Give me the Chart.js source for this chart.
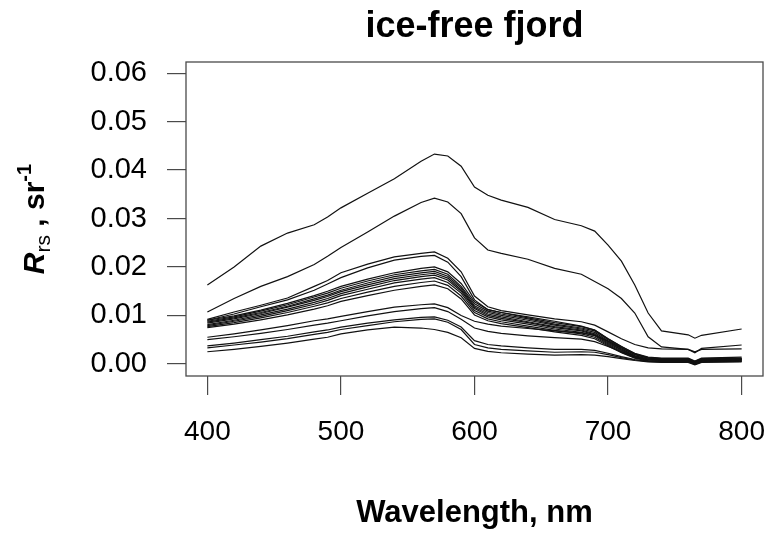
<!DOCTYPE html>
<html>
<head>
<meta charset="utf-8">
<title>ice-free fjord</title>
<script src="https://cdn.jsdelivr.net/npm/chart.js@4.4.1/dist/chart.umd.min.js"></script>
<style>
  html, body { margin: 0; padding: 0; background: #fff; }
  #wrap { width: 766px; height: 536px; }
</style>
</head>
<body>
<div id="wrap"><canvas id="rrsChart"></canvas></div>
<script>
const wavelengths = [400, 420, 440, 460, 480, 490, 500, 520, 540, 560, 570, 580, 590, 600, 610, 620, 640, 660, 680, 690, 700, 710, 720, 730, 740, 760, 765, 770, 800];
const xTicks = [400, 500, 600, 700, 800];
const yTicks = [0, 0.01, 0.02, 0.03, 0.04, 0.05, 0.06];

// Rrs spectra, sr^-1
const rrsA  = [0.0163, 0.0200, 0.0243, 0.0270, 0.0287, 0.0303, 0.0322, 0.0352, 0.0382, 0.0418, 0.0433, 0.0429, 0.0408, 0.0365, 0.0348, 0.0338, 0.0323, 0.0298, 0.0285, 0.0274, 0.0245, 0.0212, 0.0163, 0.0105, 0.0068, 0.0060, 0.0053, 0.0059, 0.0072];
const rrsB  = [0.0107, 0.0135, 0.0160, 0.0180, 0.0205, 0.0222, 0.0240, 0.0272, 0.0305, 0.0333, 0.0342, 0.0334, 0.0310, 0.0260, 0.0235, 0.0228, 0.0216, 0.0197, 0.0185, 0.0170, 0.0155, 0.0135, 0.0105, 0.0056, 0.0035, 0.0030, 0.0023, 0.0032, 0.0039];
const rrsC1 = [0.0092, 0.0107, 0.0121, 0.0136, 0.0160, 0.0172, 0.0188, 0.0206, 0.0221, 0.0228, 0.0231, 0.0218, 0.0190, 0.0140, 0.0118, 0.0110, 0.0101, 0.0093, 0.0087, 0.0080, 0.0066, 0.0052, 0.0040, 0.0033, 0.0031, 0.0030, 0.0025, 0.0030, 0.0031];
const rrsC2 = [0.0090, 0.0103, 0.0118, 0.0132, 0.0152, 0.0165, 0.0178, 0.0198, 0.0214, 0.0222, 0.0224, 0.0210, 0.0180, 0.0132, 0.0112, 0.0106, 0.0097, 0.0088, 0.0078, 0.0070, 0.0052, 0.0036, 0.0022, 0.0014, 0.0012, 0.0012, 0.0006, 0.0012, 0.0014];
const rrsM1 = [0.0090, 0.0099, 0.0111, 0.0125, 0.0141, 0.0150, 0.0160, 0.0175, 0.0188, 0.0197, 0.0200, 0.0190, 0.0166, 0.0128, 0.0112, 0.0106, 0.0095, 0.0085, 0.0077, 0.0070, 0.0052, 0.0036, 0.0021, 0.0013, 0.0011, 0.0011, 0.0005, 0.0011, 0.0012];
const rrsM2 = [0.0088, 0.0097, 0.0109, 0.0122, 0.0138, 0.0146, 0.0156, 0.0171, 0.0184, 0.0192, 0.0195, 0.0185, 0.0160, 0.0124, 0.0109, 0.0103, 0.0093, 0.0082, 0.0074, 0.0068, 0.0050, 0.0034, 0.0019, 0.0012, 0.0010, 0.0010, 0.0004, 0.0010, 0.0011];
const rrsM3 = [0.0086, 0.0095, 0.0106, 0.0119, 0.0134, 0.0142, 0.0152, 0.0167, 0.0180, 0.0188, 0.0191, 0.0181, 0.0157, 0.0120, 0.0106, 0.0100, 0.0090, 0.0080, 0.0072, 0.0065, 0.0047, 0.0031, 0.0017, 0.0010, 0.0009, 0.0009, 0.0003, 0.0009, 0.0010];
const rrsM4 = [0.0084, 0.0093, 0.0104, 0.0117, 0.0131, 0.0139, 0.0149, 0.0163, 0.0176, 0.0184, 0.0187, 0.0177, 0.0153, 0.0117, 0.0103, 0.0097, 0.0087, 0.0077, 0.0070, 0.0062, 0.0045, 0.0029, 0.0016, 0.0009, 0.0008, 0.0008, 0.0002, 0.0008, 0.0009];
const rrsM5 = [0.0081, 0.0090, 0.0101, 0.0113, 0.0127, 0.0135, 0.0145, 0.0159, 0.0172, 0.0180, 0.0183, 0.0173, 0.0150, 0.0114, 0.0100, 0.0094, 0.0085, 0.0075, 0.0068, 0.0060, 0.0043, 0.0028, 0.0015, 0.0009, 0.0008, 0.0007, 0.0002, 0.0007, 0.0008];
const rrsM6 = [0.0079, 0.0088, 0.0098, 0.0110, 0.0123, 0.0131, 0.0141, 0.0154, 0.0167, 0.0175, 0.0178, 0.0168, 0.0146, 0.0110, 0.0097, 0.0091, 0.0082, 0.0072, 0.0065, 0.0058, 0.0041, 0.0026, 0.0014, 0.0008, 0.0007, 0.0007, 0.0001, 0.0007, 0.0008];
const rrsM7 = [0.0077, 0.0085, 0.0095, 0.0106, 0.0119, 0.0126, 0.0135, 0.0148, 0.0160, 0.0168, 0.0171, 0.0162, 0.0140, 0.0106, 0.0093, 0.0087, 0.0078, 0.0069, 0.0062, 0.0055, 0.0039, 0.0024, 0.0013, 0.0007, 0.0006, 0.0006, 0.0000, 0.0006, 0.0007];
const rrsM8 = [0.0075, 0.0082, 0.0091, 0.0101, 0.0113, 0.0120, 0.0129, 0.0141, 0.0152, 0.0160, 0.0163, 0.0155, 0.0134, 0.0101, 0.0089, 0.0083, 0.0075, 0.0066, 0.0059, 0.0052, 0.0037, 0.0023, 0.0012, 0.0006, 0.0005, 0.0005, -0.0001, 0.0005, 0.0006];
const rrsL1 = [0.0055, 0.0062, 0.0070, 0.0079, 0.0089, 0.0093, 0.0098, 0.0108, 0.0117, 0.0122, 0.0124, 0.0116, 0.0100, 0.0088, 0.0082, 0.0078, 0.0073, 0.0068, 0.0064, 0.0059, 0.0047, 0.0033, 0.0020, 0.0012, 0.0010, 0.0010, 0.0005, 0.0010, 0.0011];
const rrsL2 = [0.0050, 0.0056, 0.0063, 0.0071, 0.0080, 0.0084, 0.0089, 0.0099, 0.0108, 0.0114, 0.0116, 0.0108, 0.0092, 0.0074, 0.0067, 0.0063, 0.0058, 0.0054, 0.0051, 0.0046, 0.0036, 0.0025, 0.0015, 0.0009, 0.0008, 0.0008, 0.0003, 0.0008, 0.0009];
const rrsL3 = [0.0037, 0.0043, 0.0050, 0.0057, 0.0066, 0.0070, 0.0076, 0.0084, 0.0091, 0.0096, 0.0097, 0.0090, 0.0076, 0.0048, 0.0040, 0.0037, 0.0033, 0.0030, 0.0030, 0.0028, 0.0022, 0.0015, 0.0009, 0.0006, 0.0005, 0.0005, 0.0000, 0.0005, 0.0006];
const rrsL4 = [0.0033, 0.0039, 0.0045, 0.0052, 0.0061, 0.0065, 0.0071, 0.0079, 0.0087, 0.0092, 0.0093, 0.0086, 0.0071, 0.0040, 0.0033, 0.0030, 0.0027, 0.0024, 0.0025, 0.0024, 0.0019, 0.0013, 0.0008, 0.0005, 0.0004, 0.0004, -0.0001, 0.0004, 0.0005];
const rrsL5 = [0.0025, 0.0030, 0.0036, 0.0043, 0.0051, 0.0055, 0.0062, 0.0070, 0.0076, 0.0074, 0.0071, 0.0065, 0.0054, 0.0032, 0.0026, 0.0023, 0.0020, 0.0018, 0.0019, 0.0018, 0.0015, 0.0011, 0.0007, 0.0004, 0.0003, 0.0003, -0.0002, 0.0003, 0.0004];

const spectra = [rrsA, rrsB, rrsC1, rrsC2, rrsM1, rrsM2, rrsM3, rrsM4, rrsM5, rrsM6, rrsM7, rrsM8, rrsL1, rrsL2, rrsL3, rrsL4, rrsL5];

const FONT = "'Liberation Sans', Arial, sans-serif";
const axisGrey = '#4a4a4a';

// box round the plot area, like R's box()
const boxPlugin = {
    id: 'box',
    afterDraw(chart) {
        const {ctx, chartArea: a} = chart;
        ctx.save();
        ctx.strokeStyle = axisGrey;
        ctx.lineWidth = 1.3;
        ctx.strokeRect(a.left, a.top, a.right - a.left, a.bottom - a.top);
        ctx.restore();
    }
};

// title, x label and the rotated R_rs label with sub/superscripts
const labelsPlugin = {
    id: 'labels',
    afterDraw(chart) {
        const {ctx, chartArea: a} = chart;
        const cx = (a.left + a.right) / 2;
        ctx.save();
        ctx.fillStyle = '#000';
        ctx.textAlign = 'center';
        ctx.textBaseline = 'alphabetic';
        ctx.font = `bold 36px ${FONT}`;
        ctx.fillText('ice-free fjord', cx, 37);
        ctx.font = `bold 31px ${FONT}`;
        ctx.fillText('Wavelength, nm', cx, 522);

        const parts = [
            {t: 'R', font: `italic bold 30px ${FONT}`, dy: 0},
            {t: 'rs', font: `21px ${FONT}`, dy: 6},
            {t: ' , ', font: `bold 30px ${FONT}`, dy: 0},
            {t: 'sr', font: `bold 30px ${FONT}`, dy: 0},
            {t: '-1', font: `bold 20px ${FONT}`, dy: -13},
        ];
        let total = 0;
        parts.forEach(p => { ctx.font = p.font; p.w = ctx.measureText(p.t).width; total += p.w; });
        ctx.translate(44, (a.top + a.bottom) / 2);
        ctx.rotate(-Math.PI / 2);
        ctx.textAlign = 'left';
        let x = -total / 2;
        parts.forEach(p => {
            ctx.font = p.font;
            ctx.fillText(p.t, x, p.dy);
            x += p.w;
        });
        ctx.restore();
    }
};

const ctx = document.getElementById('rrsChart').getContext('2d');
new Chart(ctx, {
    type: 'line',
    data: {
        datasets: spectra.map(s => ({
            data: wavelengths.map((w, i) => ({x: w, y: s[i]})),
            borderColor: '#111',
            borderWidth: 1.2,
            pointRadius: 0,
            tension: 0,
            fill: false,
        })),
    },
    options: {
        responsive: true,
        maintainAspectRatio: false,
        animation: false,
        layout: {padding: {top: 62, right: 3, left: 0, bottom: 0}},
        plugins: {legend: {display: false}, title: {display: false}, tooltip: {enabled: false}},
        scales: {
            x: {
                type: 'linear',
                min: 384,
                max: 816,
                afterBuildTicks: scale => { scale.ticks = xTicks.map(v => ({value: v})); },
                afterFit: scale => {
                    scale.height = 160;
                    scale.paddingLeft = 0;
                    scale.paddingRight = 0;
                },
                grid: {drawOnChartArea: false, drawTicks: true, tickLength: 19, color: axisGrey, lineWidth: 1.2},
                border: {display: false},
                ticks: {color: '#000', font: {family: FONT, size: 28}, padding: 20, maxRotation: 0},
            },
            y: {
                type: 'linear',
                min: -0.0025,
                max: 0.0623,
                afterBuildTicks: scale => { scale.ticks = yTicks.map(v => ({value: v})); },
                afterFit: scale => {
                    scale.width = 186;
                    scale.paddingTop = 0;
                    scale.paddingBottom = 0;
                },
                grid: {drawOnChartArea: false, drawTicks: true, tickLength: 19, color: axisGrey, lineWidth: 1.2},
                border: {display: false},
                ticks: {color: '#000', font: {family: FONT, size: 29}, padding: 20, callback: v => v.toFixed(2)},
            },
        },
    },
    plugins: [boxPlugin, labelsPlugin],
});
</script>
</body>
</html>
